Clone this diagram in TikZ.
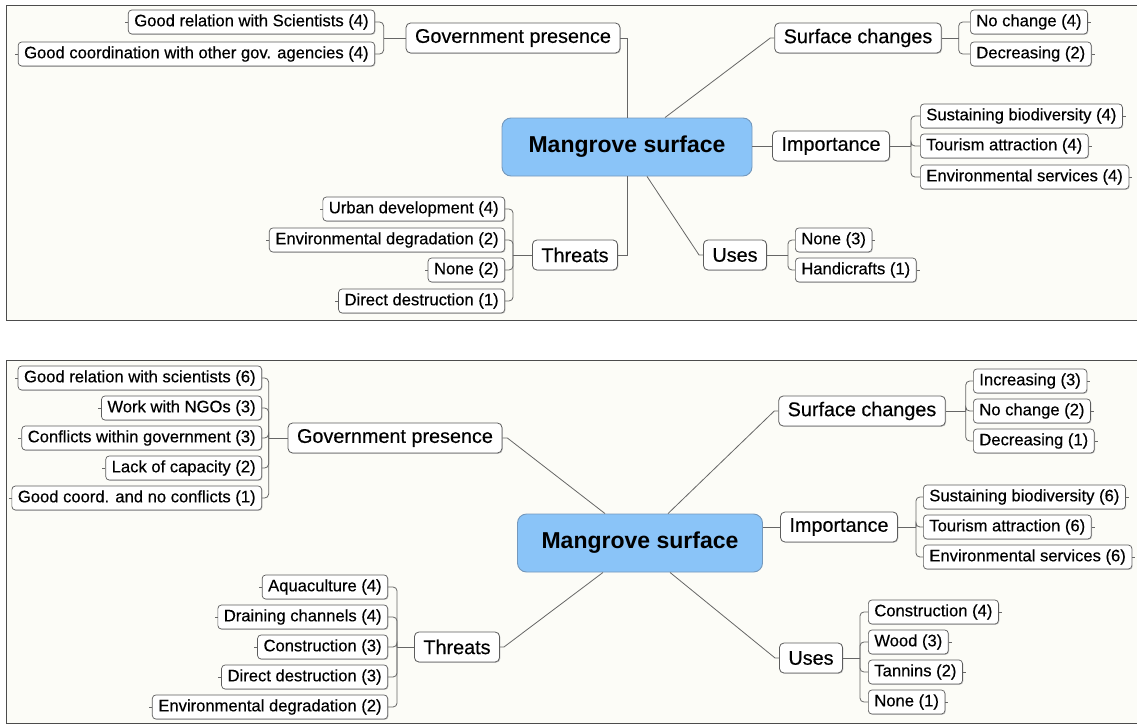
\documentclass[tikz,border=0pt]{standalone}
\usepackage{fontspec}
\setmainfont{Liberation Sans}
\newfontfamily\heavysans{Liberation Sans}[FakeBold=0.35]
\usetikzlibrary{shadows}
\definecolor{panelbg}{HTML}{FCFCF7}
\definecolor{boxline}{HTML}{5C5C5C}
\definecolor{conn}{HTML}{666666}
\definecolor{centerfill}{HTML}{8AC4F8}
\definecolor{centerline}{HTML}{7498BC}
\tikzset{
  panel/.style={draw=black!70, line width=0.9pt, fill=panelbg},
  leafbox/.style={draw=boxline, line width=0.7pt, fill=white, rounded corners=3.5pt,
    inner xsep=6pt, inner ysep=0pt, minimum height=24pt,
    font=\heavysans\fontsize{16.6}{18}\selectfont,
    general shadow={shadow xshift=0.8pt, shadow yshift=-0.8pt, fill=black!22}},
  topicbox/.style={draw=boxline, line width=0.8pt, fill=white, rounded corners=4.5pt,
    inner xsep=9pt, inner ysep=0pt, minimum height=30pt,
    font=\heavysans\fontsize{19.8}{22}\selectfont,
    general shadow={shadow xshift=0.8pt, shadow yshift=-0.8pt, fill=black!22}},
  centerbox/.style={draw=centerline, line width=0.9pt, fill=centerfill, rounded corners=9pt,
    minimum height=58pt, font=\fontsize{23}{26}\selectfont\bfseries},
  link/.style={draw=conn, line width=0.8pt},
  brace/.style={draw=conn, line width=0.8pt, rounded corners=4pt},
  stub/.style={draw=conn, line width=0.6pt},
}
\begin{document}
\begin{tikzpicture}[x=1pt,y=-1pt]
\useasboundingbox (0,0) rectangle (1137,725);
\fill[white] (0,0) rectangle (1137,725);
\begin{scope}
\clip (0,0) rectangle (1137,725);
\draw[panel] (6,5) rectangle (1150,320);
\draw[panel] (6,360) rectangle (1150,723);
\end{scope}

% ================= PANEL 1 =================
\node[centerbox, minimum width=250pt] (m1) at (627,147) {Mangrove surface};

\node[topicbox] (gov1) at (513,38) {Government presence};
\node[topicbox] (sc1) at (858,38) {Surface changes};
\node[topicbox] (imp1) at (831,146) {Importance};
\node[topicbox] (thr1) at (575,255) {Threats};
\node[topicbox] (use1) at (735,255) {Uses};

% leaves
\node[leafbox, anchor=east] (g1a) at (375,22) {Good relation with Scientists (4)};
\node[leafbox, anchor=east] (g1b) at (375,54) {Good coordination with other gov. agencies (4)};

\node[leafbox, anchor=west] (s1a) at (970,22) {No change (4)};
\node[leafbox, anchor=west] (s1b) at (970,54) {Decreasing (2)};

\node[leafbox, anchor=west] (i1a) at (920,116) {Sustaining biodiversity (4)};
\node[leafbox, anchor=west] (i1b) at (920,146) {Tourism attraction (4)};
\node[leafbox, anchor=west] (i1c) at (920,177) {Environmental services (4)};

\node[leafbox, anchor=east] (t1a) at (505,209) {Urban development (4)};
\node[leafbox, anchor=east] (t1b) at (505,240) {Environmental degradation (2)};
\node[leafbox, anchor=east] (t1c) at (505,270) {None (2)};
\node[leafbox, anchor=east] (t1d) at (505,301) {Direct destruction (1)};

\node[leafbox, anchor=west] (u1a) at (795,240) {None (3)};
\node[leafbox, anchor=west] (u1b) at (795,270) {Handicrafts (1)};

% main connectors
\draw[link] (gov1.east) -| (m1.north);
\draw[link] (thr1.east) -| (m1.south);
\draw[link] (imp1.west) -- (imp1.west -| m1.east);
\draw[link] ([xshift=38pt]m1.north) -- ([xshift=-4pt]sc1.west) -- (sc1.west);
\draw[link] ([xshift=20pt]m1.south) -- ([xshift=-4pt]use1.west) -- (use1.west);

% brackets
\coordinate (bg1) at ([xshift=-22pt]gov1.west);
\draw[link] (gov1.west) -- (bg1);
\foreach \c in {g1a,g1b} \draw[brace] (bg1) |- (\c.east);
\coordinate (bs1) at ([xshift=17pt]sc1.east);
\draw[link] (sc1.east) -- (bs1);
\foreach \c in {s1a,s1b} \draw[brace] (bs1) |- (\c.west);
\coordinate (bi1) at ([xshift=21pt]imp1.east);
\draw[link] (imp1.east) -- (bi1);
\foreach \c in {i1a,i1b,i1c} \draw[brace] (bi1) |- (\c.west);
\coordinate (bt1) at ([xshift=-19pt]thr1.west);
\draw[link] (thr1.west) -- (bt1);
\foreach \c in {t1a,t1b,t1c,t1d} \draw[brace] (bt1) |- (\c.east);
\coordinate (bu1) at ([xshift=21pt]use1.east);
\draw[link] (use1.east) -- (bu1);
\foreach \c in {u1a,u1b} \draw[brace] (bu1) |- (\c.west);

% stubs
\foreach \c in {g1a,g1b,t1a,t1b,t1c,t1d} \draw[stub] (\c.west) -- ++(-3,0);
\foreach \c in {s1a,s1b,i1a,i1b,i1c,u1a,u1b} \draw[stub] (\c.east) -- ++(3,0);

% ================= PANEL 2 =================
\node[centerbox, minimum width=245pt] (m2) at (640,543) {Mangrove surface};

\node[topicbox] (gov2) at (395,438) {Government presence};
\node[topicbox] (sc2) at (862,411) {Surface changes};
\node[topicbox] (imp2) at (839,527) {Importance};
\node[topicbox] (thr2) at (457,647) {Threats};
\node[topicbox] (use2) at (811,658) {Uses};

\node[leafbox, anchor=east] (g2a) at (262,378) {Good relation with scientists (6)};
\node[leafbox, anchor=east] (g2b) at (262,408) {Work with NGOs (3)};
\node[leafbox, anchor=east] (g2c) at (262,438) {Conflicts within government (3)};
\node[leafbox, anchor=east] (g2d) at (262,468) {Lack of capacity (2)};
\node[leafbox, anchor=east] (g2e) at (262,498) {Good coord. and no conflicts (1)};

\node[leafbox, anchor=west] (s2a) at (973,381) {Increasing (3)};
\node[leafbox, anchor=west] (s2b) at (973,411) {No change (2)};
\node[leafbox, anchor=west] (s2c) at (973,441) {Decreasing (1)};

\node[leafbox, anchor=west] (i2a) at (923,497) {Sustaining biodiversity (6)};
\node[leafbox, anchor=west] (i2b) at (923,527) {Tourism attraction (6)};
\node[leafbox, anchor=west] (i2c) at (923,557) {Environmental services (6)};

\node[leafbox, anchor=east] (t2a) at (388,587) {Aquaculture (4)};
\node[leafbox, anchor=east] (t2b) at (388,617) {Draining channels (4)};
\node[leafbox, anchor=east] (t2c) at (388,647) {Construction (3)};
\node[leafbox, anchor=east] (t2d) at (388,677) {Direct destruction (3)};
\node[leafbox, anchor=east] (t2e) at (388,707) {Environmental degradation (2)};

\node[leafbox, anchor=west] (u2a) at (868,612) {Construction (4)};
\node[leafbox, anchor=west] (u2b) at (868,642) {Wood (3)};
\node[leafbox, anchor=west] (u2c) at (868,672) {Tannins (2)};
\node[leafbox, anchor=west] (u2d) at (868,702) {None (1)};

% main connectors
\draw[link] (gov2.east) -- ([xshift=5pt]gov2.east) -- ([xshift=-35pt]m2.north);
\draw[link] ([xshift=28pt]m2.north) -- ([xshift=-4pt]sc2.west) -- (sc2.west);
\draw[link] (imp2.west) -- (imp2.west -| m2.east);
\draw[link] ([xshift=-37pt]m2.south) -- ([xshift=4pt]thr2.east) -- (thr2.east);
\draw[link] ([xshift=30pt]m2.south) -- ([xshift=-4pt]use2.west) -- (use2.west);

% brackets
\coordinate (bg2) at ([xshift=-19pt]gov2.west);
\draw[link] (gov2.west) -- (bg2);
\foreach \c in {g2a,g2b,g2c,g2d,g2e} \draw[brace] (bg2) |- (\c.east);
\coordinate (bs2) at ([xshift=20pt]sc2.east);
\draw[link] (sc2.east) -- (bs2);
\foreach \c in {s2a,s2b,s2c} \draw[brace] (bs2) |- (\c.west);
\coordinate (bi2) at ([xshift=18pt]imp2.east);
\draw[link] (imp2.east) -- (bi2);
\foreach \c in {i2a,i2b,i2c} \draw[brace] (bi2) |- (\c.west);
\coordinate (bt2) at ([xshift=-17pt]thr2.west);
\draw[link] (thr2.west) -- (bt2);
\foreach \c in {t2a,t2b,t2c,t2d,t2e} \draw[brace] (bt2) |- (\c.east);
\coordinate (bu2) at ([xshift=17pt]use2.east);
\draw[link] (use2.east) -- (bu2);
\foreach \c in {u2a,u2b,u2c,u2d} \draw[brace] (bu2) |- (\c.west);

\foreach \c in {g2a,g2b,g2c,g2d,g2e,t2a,t2b,t2c,t2d,t2e} \draw[stub] (\c.west) -- ++(-3,0);
\foreach \c in {s2a,s2b,s2c,i2a,i2b,i2c,u2a,u2b,u2c,u2d} \draw[stub] (\c.east) -- ++(3,0);
\end{tikzpicture}
\end{document}
